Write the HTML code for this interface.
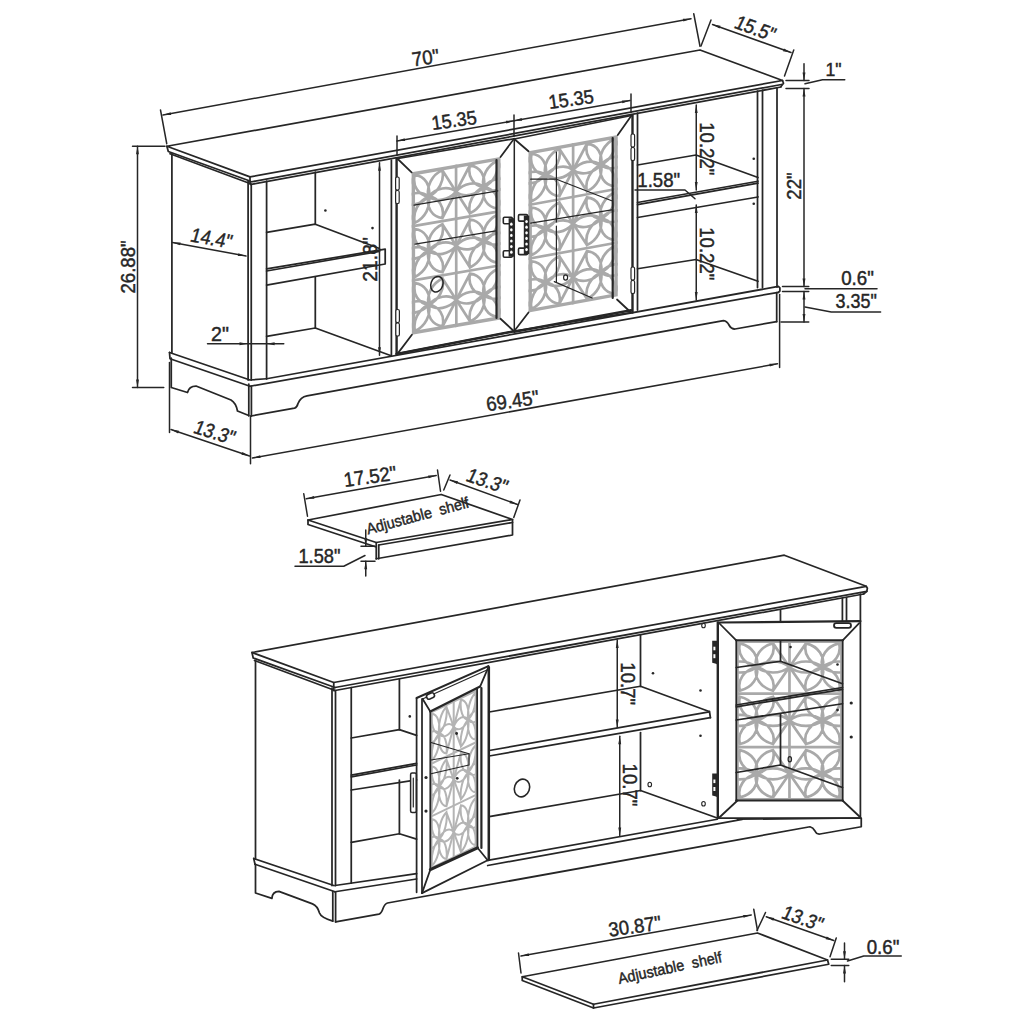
<!DOCTYPE html>
<html><head><meta charset="utf-8"><style>html,body{margin:0;padding:0;background:#fff;}svg{display:block;}text{font-family:"Liberation Sans",sans-serif;}</style></head>
<body><svg width="1024" height="1024" viewBox="0 0 1024 1024" font-family="Liberation Sans, sans-serif" stroke-linecap="round">
<defs><clipPath id="latclip1"><rect x="0" y="0" width="89.0" height="162.0"/></clipPath><clipPath id="latclip2"><rect x="0" y="0" width="89.0" height="162.0"/></clipPath><clipPath id="latclip3"><rect x="0" y="0" width="89.0" height="162.0"/></clipPath><clipPath id="latclip4"><rect x="0" y="0" width="89.0" height="162.0"/></clipPath></defs>
<rect width="1024" height="1024" fill="#ffffff"/>
<polyline points="166.90,146.25 700.00,50.00 782.50,80.50 250.00,176.90 166.90,146.25" fill="none" stroke="#262626" stroke-width="1.75" stroke-linejoin="round" />
<polyline points="166.90,146.25 168.30,151.50 250.60,181.25" fill="none" stroke="#262626" stroke-width="1.75" stroke-linejoin="round" />
<line x1="170.00" y1="153.75" x2="250.60" y2="183.75" stroke="#262626" stroke-width="1.75" />
<line x1="250.00" y1="176.90" x2="250.00" y2="183.75" stroke="#262626" stroke-width="1.75" />
<line x1="250.60" y1="182.00" x2="781.50" y2="84.50" stroke="#262626" stroke-width="1.75" />
<line x1="250.60" y1="184.50" x2="781.00" y2="87.00" stroke="#262626" stroke-width="1.75" />
<polyline points="782.50,80.50 783.50,83.20 781.00,86.50" fill="none" stroke="#262626" stroke-width="1.75" stroke-linejoin="round" />
<line x1="171.90" y1="153.75" x2="171.90" y2="352.50" stroke="#262626" stroke-width="1.75" />
<line x1="248.10" y1="181.00" x2="248.10" y2="380.00" stroke="#262626" stroke-width="1.75" />
<line x1="251.25" y1="184.00" x2="251.25" y2="380.00" stroke="#262626" stroke-width="1.75" />
<line x1="266.60" y1="181.00" x2="266.60" y2="378.75" stroke="#262626" stroke-width="1.75" />
<line x1="315.30" y1="172.00" x2="315.30" y2="224.20" stroke="#262626" stroke-width="1.75" />
<line x1="315.30" y1="277.10" x2="315.30" y2="328.00" stroke="#262626" stroke-width="1.75" />
<polyline points="266.60,232.30 315.30,224.20 379.50,248.50" fill="none" stroke="#262626" stroke-width="1.75" stroke-linejoin="round" />
<polyline points="266.60,268.90 385.20,249.20 385.20,264.00 266.60,285.10" fill="none" stroke="#262626" stroke-width="1.75" stroke-linejoin="round" />
<line x1="266.60" y1="271.00" x2="379.50" y2="251.30" stroke="#262626" stroke-width="1.75" />
<polyline points="266.60,336.40 315.30,328.00 391.20,355.80" fill="none" stroke="#262626" stroke-width="1.75" stroke-linejoin="round" />
<circle cx="325.4" cy="210.5" r="1.3" fill="#262626"/>
<circle cx="372.5" cy="228.1" r="1.3" fill="#262626"/>
<line x1="391.40" y1="160.00" x2="391.40" y2="355.80" stroke="#262626" stroke-width="1.75" />
<polyline points="266.60,378.75 778.40,286.40 779.90,287.80 779.90,291.00 778.40,292.30" fill="none" stroke="#262626" stroke-width="1.75" stroke-linejoin="round" />
<line x1="250.00" y1="386.25" x2="778.40" y2="292.30" stroke="#262626" stroke-width="1.75" />
<polyline points="169.50,352.50 250.00,380.00 266.60,378.75" fill="none" stroke="#262626" stroke-width="1.75" stroke-linejoin="round" />
<polyline points="169.50,352.50 170.00,358.75 250.00,386.25" fill="none" stroke="#262626" stroke-width="1.75" stroke-linejoin="round" />
<path d="M171.25,358 L171.25,387.5 L187.5,392.5 Q189,386 196,386 L231,400 Q236,403 237.5,411 L248.75,415.5" fill="none" stroke="#262626" stroke-width="1.75" stroke-linejoin="round" />
<line x1="248.80" y1="384.00" x2="248.80" y2="415.80" stroke="#262626" stroke-width="1.75" />
<line x1="251.40" y1="386.00" x2="251.40" y2="416.00" stroke="#262626" stroke-width="1.75" />
<path d="M251,416 L294.5,408.1 Q297,407.5 298,403.5 Q300.5,397 307,395.8 L723.5,320.6 Q727,321 729,325 Q731,329 735,329 L776.7,321.6" fill="none" stroke="#262626" stroke-width="1.75" stroke-linejoin="round" />
<line x1="776.70" y1="292.50" x2="776.70" y2="321.60" stroke="#262626" stroke-width="1.75" />
<g transform="matrix(0.99888,-0.17191,0.00185,1.00247,411.60,172.30)"><g clip-path="url(#latclip1)"><line x1="44.50" y1="0.00" x2="44.50" y2="162.00" stroke="#a9a9a9" stroke-width="2.7" vector-effect="non-scaling-stroke"/><line x1="0.00" y1="54.00" x2="89.00" y2="54.00" stroke="#a9a9a9" stroke-width="2.7" vector-effect="non-scaling-stroke"/><line x1="0.00" y1="108.00" x2="89.00" y2="108.00" stroke="#a9a9a9" stroke-width="2.7" vector-effect="non-scaling-stroke"/><circle cx="16.91" cy="27.00" r="3.0" fill="#a9a9a9"/><circle cx="16.91" cy="81.00" r="3.0" fill="#a9a9a9"/><circle cx="16.91" cy="135.00" r="3.0" fill="#a9a9a9"/><circle cx="72.09" cy="27.00" r="3.0" fill="#a9a9a9"/><circle cx="72.09" cy="81.00" r="3.0" fill="#a9a9a9"/><circle cx="72.09" cy="135.00" r="3.0" fill="#a9a9a9"/><path d="M16.91,27.00 A19.86,19.86 0 0 1 44.50,27.00 A19.86,19.86 0 0 1 16.91,27.00 M16.91,27.00 A19.86,19.86 0 0 1 30.71,3.11 A19.86,19.86 0 0 1 16.91,27.00 M16.91,27.00 A19.86,19.86 0 0 1 3.12,3.11 A19.86,19.86 0 0 1 16.91,27.00 M16.91,27.00 A19.86,19.86 0 0 1 -10.68,27.00 A19.86,19.86 0 0 1 16.91,27.00 M16.91,27.00 A19.86,19.86 0 0 1 3.11,50.89 A19.86,19.86 0 0 1 16.91,27.00 M16.91,27.00 A19.86,19.86 0 0 1 30.71,50.89 A19.86,19.86 0 0 1 16.91,27.00 M30.71,3.11 L44.50,27.00 M3.11,3.11 L-10.68,27.00 M30.71,50.89 L44.50,27.00 M3.11,50.89 L-10.68,27.00 M16.91,81.00 A19.86,19.86 0 0 1 44.50,81.00 A19.86,19.86 0 0 1 16.91,81.00 M16.91,81.00 A19.86,19.86 0 0 1 30.71,57.11 A19.86,19.86 0 0 1 16.91,81.00 M16.91,81.00 A19.86,19.86 0 0 1 3.12,57.11 A19.86,19.86 0 0 1 16.91,81.00 M16.91,81.00 A19.86,19.86 0 0 1 -10.68,81.00 A19.86,19.86 0 0 1 16.91,81.00 M16.91,81.00 A19.86,19.86 0 0 1 3.11,104.89 A19.86,19.86 0 0 1 16.91,81.00 M16.91,81.00 A19.86,19.86 0 0 1 30.71,104.89 A19.86,19.86 0 0 1 16.91,81.00 M30.71,57.11 L44.50,81.00 M3.11,57.11 L-10.68,81.00 M30.71,104.89 L44.50,81.00 M3.11,104.89 L-10.68,81.00 M16.91,135.00 A19.86,19.86 0 0 1 44.50,135.00 A19.86,19.86 0 0 1 16.91,135.00 M16.91,135.00 A19.86,19.86 0 0 1 30.71,111.11 A19.86,19.86 0 0 1 16.91,135.00 M16.91,135.00 A19.86,19.86 0 0 1 3.12,111.11 A19.86,19.86 0 0 1 16.91,135.00 M16.91,135.00 A19.86,19.86 0 0 1 -10.68,135.00 A19.86,19.86 0 0 1 16.91,135.00 M16.91,135.00 A19.86,19.86 0 0 1 3.11,158.89 A19.86,19.86 0 0 1 16.91,135.00 M16.91,135.00 A19.86,19.86 0 0 1 30.71,158.89 A19.86,19.86 0 0 1 16.91,135.00 M30.71,111.11 L44.50,135.00 M3.11,111.11 L-10.68,135.00 M30.71,158.89 L44.50,135.00 M3.11,158.89 L-10.68,135.00 M72.09,27.00 A19.86,19.86 0 0 1 99.68,27.00 A19.86,19.86 0 0 1 72.09,27.00 M72.09,27.00 A19.86,19.86 0 0 1 85.89,3.11 A19.86,19.86 0 0 1 72.09,27.00 M72.09,27.00 A19.86,19.86 0 0 1 58.30,3.11 A19.86,19.86 0 0 1 72.09,27.00 M72.09,27.00 A19.86,19.86 0 0 1 44.50,27.00 A19.86,19.86 0 0 1 72.09,27.00 M72.09,27.00 A19.86,19.86 0 0 1 58.29,50.89 A19.86,19.86 0 0 1 72.09,27.00 M72.09,27.00 A19.86,19.86 0 0 1 85.89,50.89 A19.86,19.86 0 0 1 72.09,27.00 M85.89,3.11 L99.68,27.00 M58.30,3.11 L44.50,27.00 M85.89,50.89 L99.68,27.00 M58.30,50.89 L44.50,27.00 M72.09,81.00 A19.86,19.86 0 0 1 99.68,81.00 A19.86,19.86 0 0 1 72.09,81.00 M72.09,81.00 A19.86,19.86 0 0 1 85.89,57.11 A19.86,19.86 0 0 1 72.09,81.00 M72.09,81.00 A19.86,19.86 0 0 1 58.30,57.11 A19.86,19.86 0 0 1 72.09,81.00 M72.09,81.00 A19.86,19.86 0 0 1 44.50,81.00 A19.86,19.86 0 0 1 72.09,81.00 M72.09,81.00 A19.86,19.86 0 0 1 58.29,104.89 A19.86,19.86 0 0 1 72.09,81.00 M72.09,81.00 A19.86,19.86 0 0 1 85.89,104.89 A19.86,19.86 0 0 1 72.09,81.00 M85.89,57.11 L99.68,81.00 M58.30,57.11 L44.50,81.00 M85.89,104.89 L99.68,81.00 M58.30,104.89 L44.50,81.00 M72.09,135.00 A19.86,19.86 0 0 1 99.68,135.00 A19.86,19.86 0 0 1 72.09,135.00 M72.09,135.00 A19.86,19.86 0 0 1 85.89,111.11 A19.86,19.86 0 0 1 72.09,135.00 M72.09,135.00 A19.86,19.86 0 0 1 58.30,111.11 A19.86,19.86 0 0 1 72.09,135.00 M72.09,135.00 A19.86,19.86 0 0 1 44.50,135.00 A19.86,19.86 0 0 1 72.09,135.00 M72.09,135.00 A19.86,19.86 0 0 1 58.29,158.89 A19.86,19.86 0 0 1 72.09,135.00 M72.09,135.00 A19.86,19.86 0 0 1 85.89,158.89 A19.86,19.86 0 0 1 72.09,135.00 M85.89,111.11 L99.68,135.00 M58.30,111.11 L44.50,135.00 M85.89,158.89 L99.68,135.00 M58.30,158.89 L44.50,135.00" fill="none" stroke="#a9a9a9" stroke-width="2.7" vector-effect="non-scaling-stroke"/><rect x="0" y="0" width="89.0" height="162.0" fill="none" stroke="#a9a9a9" stroke-width="6.8" vector-effect="non-scaling-stroke"/></g></g>
<g transform="matrix(1.00281,-0.18258,0.00000,0.99537,528.50,151.25)"><g clip-path="url(#latclip2)"><line x1="44.50" y1="0.00" x2="44.50" y2="162.00" stroke="#a9a9a9" stroke-width="2.7" vector-effect="non-scaling-stroke"/><line x1="0.00" y1="54.00" x2="89.00" y2="54.00" stroke="#a9a9a9" stroke-width="2.7" vector-effect="non-scaling-stroke"/><line x1="0.00" y1="108.00" x2="89.00" y2="108.00" stroke="#a9a9a9" stroke-width="2.7" vector-effect="non-scaling-stroke"/><circle cx="16.91" cy="27.00" r="3.0" fill="#a9a9a9"/><circle cx="16.91" cy="81.00" r="3.0" fill="#a9a9a9"/><circle cx="16.91" cy="135.00" r="3.0" fill="#a9a9a9"/><circle cx="72.09" cy="27.00" r="3.0" fill="#a9a9a9"/><circle cx="72.09" cy="81.00" r="3.0" fill="#a9a9a9"/><circle cx="72.09" cy="135.00" r="3.0" fill="#a9a9a9"/><path d="M16.91,27.00 A19.86,19.86 0 0 1 44.50,27.00 A19.86,19.86 0 0 1 16.91,27.00 M16.91,27.00 A19.86,19.86 0 0 1 30.71,3.11 A19.86,19.86 0 0 1 16.91,27.00 M16.91,27.00 A19.86,19.86 0 0 1 3.12,3.11 A19.86,19.86 0 0 1 16.91,27.00 M16.91,27.00 A19.86,19.86 0 0 1 -10.68,27.00 A19.86,19.86 0 0 1 16.91,27.00 M16.91,27.00 A19.86,19.86 0 0 1 3.11,50.89 A19.86,19.86 0 0 1 16.91,27.00 M16.91,27.00 A19.86,19.86 0 0 1 30.71,50.89 A19.86,19.86 0 0 1 16.91,27.00 M30.71,3.11 L44.50,27.00 M3.11,3.11 L-10.68,27.00 M30.71,50.89 L44.50,27.00 M3.11,50.89 L-10.68,27.00 M16.91,81.00 A19.86,19.86 0 0 1 44.50,81.00 A19.86,19.86 0 0 1 16.91,81.00 M16.91,81.00 A19.86,19.86 0 0 1 30.71,57.11 A19.86,19.86 0 0 1 16.91,81.00 M16.91,81.00 A19.86,19.86 0 0 1 3.12,57.11 A19.86,19.86 0 0 1 16.91,81.00 M16.91,81.00 A19.86,19.86 0 0 1 -10.68,81.00 A19.86,19.86 0 0 1 16.91,81.00 M16.91,81.00 A19.86,19.86 0 0 1 3.11,104.89 A19.86,19.86 0 0 1 16.91,81.00 M16.91,81.00 A19.86,19.86 0 0 1 30.71,104.89 A19.86,19.86 0 0 1 16.91,81.00 M30.71,57.11 L44.50,81.00 M3.11,57.11 L-10.68,81.00 M30.71,104.89 L44.50,81.00 M3.11,104.89 L-10.68,81.00 M16.91,135.00 A19.86,19.86 0 0 1 44.50,135.00 A19.86,19.86 0 0 1 16.91,135.00 M16.91,135.00 A19.86,19.86 0 0 1 30.71,111.11 A19.86,19.86 0 0 1 16.91,135.00 M16.91,135.00 A19.86,19.86 0 0 1 3.12,111.11 A19.86,19.86 0 0 1 16.91,135.00 M16.91,135.00 A19.86,19.86 0 0 1 -10.68,135.00 A19.86,19.86 0 0 1 16.91,135.00 M16.91,135.00 A19.86,19.86 0 0 1 3.11,158.89 A19.86,19.86 0 0 1 16.91,135.00 M16.91,135.00 A19.86,19.86 0 0 1 30.71,158.89 A19.86,19.86 0 0 1 16.91,135.00 M30.71,111.11 L44.50,135.00 M3.11,111.11 L-10.68,135.00 M30.71,158.89 L44.50,135.00 M3.11,158.89 L-10.68,135.00 M72.09,27.00 A19.86,19.86 0 0 1 99.68,27.00 A19.86,19.86 0 0 1 72.09,27.00 M72.09,27.00 A19.86,19.86 0 0 1 85.89,3.11 A19.86,19.86 0 0 1 72.09,27.00 M72.09,27.00 A19.86,19.86 0 0 1 58.30,3.11 A19.86,19.86 0 0 1 72.09,27.00 M72.09,27.00 A19.86,19.86 0 0 1 44.50,27.00 A19.86,19.86 0 0 1 72.09,27.00 M72.09,27.00 A19.86,19.86 0 0 1 58.29,50.89 A19.86,19.86 0 0 1 72.09,27.00 M72.09,27.00 A19.86,19.86 0 0 1 85.89,50.89 A19.86,19.86 0 0 1 72.09,27.00 M85.89,3.11 L99.68,27.00 M58.30,3.11 L44.50,27.00 M85.89,50.89 L99.68,27.00 M58.30,50.89 L44.50,27.00 M72.09,81.00 A19.86,19.86 0 0 1 99.68,81.00 A19.86,19.86 0 0 1 72.09,81.00 M72.09,81.00 A19.86,19.86 0 0 1 85.89,57.11 A19.86,19.86 0 0 1 72.09,81.00 M72.09,81.00 A19.86,19.86 0 0 1 58.30,57.11 A19.86,19.86 0 0 1 72.09,81.00 M72.09,81.00 A19.86,19.86 0 0 1 44.50,81.00 A19.86,19.86 0 0 1 72.09,81.00 M72.09,81.00 A19.86,19.86 0 0 1 58.29,104.89 A19.86,19.86 0 0 1 72.09,81.00 M72.09,81.00 A19.86,19.86 0 0 1 85.89,104.89 A19.86,19.86 0 0 1 72.09,81.00 M85.89,57.11 L99.68,81.00 M58.30,57.11 L44.50,81.00 M85.89,104.89 L99.68,81.00 M58.30,104.89 L44.50,81.00 M72.09,135.00 A19.86,19.86 0 0 1 99.68,135.00 A19.86,19.86 0 0 1 72.09,135.00 M72.09,135.00 A19.86,19.86 0 0 1 85.89,111.11 A19.86,19.86 0 0 1 72.09,135.00 M72.09,135.00 A19.86,19.86 0 0 1 58.30,111.11 A19.86,19.86 0 0 1 72.09,135.00 M72.09,135.00 A19.86,19.86 0 0 1 44.50,135.00 A19.86,19.86 0 0 1 72.09,135.00 M72.09,135.00 A19.86,19.86 0 0 1 58.29,158.89 A19.86,19.86 0 0 1 72.09,135.00 M72.09,135.00 A19.86,19.86 0 0 1 85.89,158.89 A19.86,19.86 0 0 1 72.09,135.00 M85.89,111.11 L99.68,135.00 M58.30,111.11 L44.50,135.00 M85.89,158.89 L99.68,135.00 M58.30,158.89 L44.50,135.00" fill="none" stroke="#a9a9a9" stroke-width="2.7" vector-effect="non-scaling-stroke"/><rect x="0" y="0" width="89.0" height="162.0" fill="none" stroke="#a9a9a9" stroke-width="6.8" vector-effect="non-scaling-stroke"/></g></g>
<line x1="396.60" y1="158.75" x2="396.60" y2="353.90" stroke="#262626" stroke-width="2.4" />
<line x1="396.60" y1="158.75" x2="514.00" y2="138.75" stroke="#262626" stroke-width="1.75" />
<line x1="396.60" y1="353.90" x2="514.00" y2="331.25" stroke="#262626" stroke-width="1.75" />
<line x1="514.30" y1="138.75" x2="514.30" y2="331.25" stroke="#262626" stroke-width="1.5" />
<line x1="397.50" y1="158.75" x2="411.60" y2="172.30" stroke="#262626" stroke-width="1.75" />
<line x1="514.00" y1="138.75" x2="500.50" y2="157.00" stroke="#262626" stroke-width="1.75" />
<line x1="397.80" y1="353.40" x2="411.90" y2="334.70" stroke="#262626" stroke-width="1.75" />
<line x1="514.00" y1="331.25" x2="500.50" y2="318.75" stroke="#262626" stroke-width="1.75" />
<rect x="395.6" y="177" width="3.6" height="13" rx="1.6" fill="#fff" stroke="#262626" stroke-width="1.2"/>
<rect x="395.6" y="190.5" width="3.6" height="13" rx="1.6" fill="#fff" stroke="#262626" stroke-width="1.2"/>
<rect x="395.8" y="309.5" width="3.6" height="13" rx="1.6" fill="#fff" stroke="#262626" stroke-width="1.2"/>
<rect x="395.8" y="323" width="3.6" height="13" rx="1.6" fill="#fff" stroke="#262626" stroke-width="1.2"/>
<line x1="514.30" y1="139.00" x2="631.50" y2="115.50" stroke="#262626" stroke-width="1.75" />
<line x1="514.30" y1="331.00" x2="631.00" y2="312.50" stroke="#262626" stroke-width="1.75" />
<line x1="632.50" y1="115.50" x2="632.50" y2="312.50" stroke="#262626" stroke-width="2.4" />
<line x1="514.30" y1="139.00" x2="528.50" y2="151.25" stroke="#262626" stroke-width="1.75" />
<line x1="631.50" y1="115.50" x2="617.75" y2="135.00" stroke="#262626" stroke-width="1.75" />
<line x1="514.30" y1="331.00" x2="528.50" y2="312.50" stroke="#262626" stroke-width="1.75" />
<line x1="631.00" y1="312.50" x2="617.00" y2="299.50" stroke="#262626" stroke-width="1.75" />
<rect x="631" y="134" width="3.6" height="13" rx="1.6" fill="#fff" stroke="#262626" stroke-width="1.2"/>
<rect x="631" y="147.5" width="3.6" height="13" rx="1.6" fill="#fff" stroke="#262626" stroke-width="1.2"/>
<rect x="631" y="267" width="3.6" height="13" rx="1.6" fill="#fff" stroke="#262626" stroke-width="1.2"/>
<rect x="631" y="280.5" width="3.6" height="13" rx="1.6" fill="#fff" stroke="#262626" stroke-width="1.2"/>
<rect x="503.3" y="217.2" width="9.0" height="6.5" rx="1.2" fill="#fff" stroke="#262626" stroke-width="1.6"/>
<rect x="503.3" y="250.7" width="9.0" height="6.5" rx="1.2" fill="#fff" stroke="#262626" stroke-width="1.6"/>
<rect x="508.60" y="218.20" width="5.5" height="38.5" fill="#262626"/>
<ellipse cx="511.35" cy="224.20" rx="1.3" ry="1.6" fill="#fff"/>
<ellipse cx="511.35" cy="229.80" rx="1.3" ry="1.6" fill="#fff"/>
<ellipse cx="511.35" cy="235.40" rx="1.3" ry="1.6" fill="#fff"/>
<ellipse cx="511.35" cy="241.00" rx="1.3" ry="1.6" fill="#fff"/>
<ellipse cx="511.35" cy="246.60" rx="1.3" ry="1.6" fill="#fff"/>
<ellipse cx="511.35" cy="252.20" rx="1.3" ry="1.6" fill="#fff"/>
<rect x="518.5" y="214.6" width="9.0" height="6.5" rx="1.2" fill="#fff" stroke="#262626" stroke-width="1.6"/>
<rect x="518.5" y="248.1" width="9.0" height="6.5" rx="1.2" fill="#fff" stroke="#262626" stroke-width="1.6"/>
<rect x="523.80" y="215.60" width="5.5" height="38.5" fill="#262626"/>
<ellipse cx="526.55" cy="221.60" rx="1.3" ry="1.6" fill="#fff"/>
<ellipse cx="526.55" cy="227.20" rx="1.3" ry="1.6" fill="#fff"/>
<ellipse cx="526.55" cy="232.80" rx="1.3" ry="1.6" fill="#fff"/>
<ellipse cx="526.55" cy="238.40" rx="1.3" ry="1.6" fill="#fff"/>
<ellipse cx="526.55" cy="244.00" rx="1.3" ry="1.6" fill="#fff"/>
<ellipse cx="526.55" cy="249.60" rx="1.3" ry="1.6" fill="#fff"/>
<line x1="414.00" y1="205.20" x2="497.80" y2="190.90" stroke="#262626" stroke-width="1.2" />
<line x1="415.00" y1="244.20" x2="495.90" y2="230.90" stroke="#262626" stroke-width="1.2" />
<ellipse cx="436.9" cy="284.2" rx="6" ry="8" transform="rotate(20 436.9 284.2)" fill="none" stroke="#262626" stroke-width="1.5"/>
<line x1="496.50" y1="160.00" x2="496.50" y2="318.00" stroke="#262626" stroke-width="2.2" />
<line x1="612.70" y1="138.00" x2="612.70" y2="298.00" stroke="#262626" stroke-width="2.2" />
<polyline points="530.70,179.20 556.40,179.20 611.70,200.70" fill="none" stroke="#262626" stroke-width="1.2" stroke-linejoin="round" />
<line x1="530.70" y1="223.20" x2="611.70" y2="209.90" stroke="#262626" stroke-width="1.2" />
<line x1="556.40" y1="152.00" x2="556.40" y2="222.00" stroke="#262626" stroke-width="1.2" />
<line x1="556.40" y1="226.00" x2="556.40" y2="281.60" stroke="#262626" stroke-width="1.2" />
<line x1="554.30" y1="281.60" x2="592.20" y2="298.00" stroke="#262626" stroke-width="1.2" />
<ellipse cx="565.6" cy="277.5" rx="2" ry="2.6" fill="none" stroke="#262626" stroke-width="1.2"/>
<line x1="514.30" y1="331.80" x2="631.10" y2="310.30" stroke="#262626" stroke-width="2.4" />
<line x1="396.60" y1="353.90" x2="514.00" y2="331.25" stroke="#262626" stroke-width="2.4" />
<line x1="637.50" y1="113.00" x2="637.50" y2="310.00" stroke="#262626" stroke-width="1.75" />
<line x1="757.50" y1="91.00" x2="757.50" y2="287.50" stroke="#262626" stroke-width="1.75" />
<line x1="762.50" y1="90.00" x2="762.50" y2="287.50" stroke="#262626" stroke-width="1.75" />
<line x1="777.00" y1="88.00" x2="777.00" y2="287.00" stroke="#262626" stroke-width="1.75" />
<polyline points="637.50,165.00 696.00,155.00 758.00,177.50" fill="none" stroke="#262626" stroke-width="1.75" stroke-linejoin="round" />
<line x1="637.50" y1="202.50" x2="758.00" y2="181.25" stroke="#262626" stroke-width="1.75" />
<line x1="637.50" y1="204.60" x2="758.00" y2="183.20" stroke="#262626" stroke-width="1.75" />
<line x1="637.50" y1="217.50" x2="758.00" y2="197.00" stroke="#262626" stroke-width="1.75" />
<polyline points="637.50,268.75 696.00,259.50 758.00,281.25" fill="none" stroke="#262626" stroke-width="1.75" stroke-linejoin="round" />
<circle cx="753.75" cy="158.75" r="1.3" fill="#262626"/>
<circle cx="753.75" cy="203.75" r="1.3" fill="#262626"/>
<line x1="160.50" y1="110.00" x2="166.75" y2="143.75" stroke="#262626" stroke-width="1.5" />
<line x1="693.75" y1="13.75" x2="700.00" y2="46.25" stroke="#262626" stroke-width="1.5" />
<line x1="163.00" y1="115.00" x2="691.00" y2="18.75" stroke="#262626" stroke-width="1.5" />
<polygon points="163.00,115.00 170.61,112.14 171.13,114.99" fill="#262626" stroke="none" stroke-width="0"/>
<polygon points="691.00,18.75 683.39,21.61 682.87,18.76" fill="#262626" stroke="none" stroke-width="0"/>
<g transform="translate(425.50,57.50) rotate(-8) skewX(0) scale(0.93,1)"><text x="0" y="7.16" font-size="20" text-anchor="middle" fill="#262626" stroke="#262626" stroke-width="0.45">70"</text></g>
<line x1="711.00" y1="20.00" x2="701.00" y2="46.00" stroke="#262626" stroke-width="1.5" />
<line x1="793.75" y1="50.00" x2="784.50" y2="76.00" stroke="#262626" stroke-width="1.5" />
<line x1="712.50" y1="24.50" x2="791.00" y2="52.50" stroke="#262626" stroke-width="1.5" />
<polygon points="712.50,24.50 720.52,25.82 719.55,28.55" fill="#262626" stroke="none" stroke-width="0"/>
<polygon points="791.00,52.50 782.98,51.18 783.95,48.45" fill="#262626" stroke="none" stroke-width="0"/>
<g transform="translate(755.50,28.00) rotate(20) skewX(-6) scale(0.9,1)"><text x="0" y="7.16" font-size="20" text-anchor="middle" fill="#262626" stroke="#262626" stroke-width="0.45">15.5"</text></g>
<line x1="786.00" y1="80.40" x2="809.00" y2="80.40" stroke="#262626" stroke-width="1.5" />
<line x1="786.00" y1="88.40" x2="809.00" y2="88.40" stroke="#262626" stroke-width="1.5" />
<line x1="804.00" y1="63.75" x2="804.00" y2="80.40" stroke="#262626" stroke-width="1.5" />
<polygon points="804.00,80.40 802.55,72.40 805.45,72.40" fill="#262626" stroke="none" stroke-width="0"/>
<polyline points="805.00,83.75 822.50,79.75 844.75,79.75" fill="none" stroke="#262626" stroke-width="1.5" stroke-linejoin="round" />
<g transform="translate(833.50,69.50) rotate(0) skewX(0) scale(0.93,1)"><text x="0" y="6.80" font-size="19" text-anchor="middle" fill="#262626" stroke="#262626" stroke-width="0.45">1"</text></g>
<line x1="804.00" y1="88.40" x2="804.00" y2="286.50" stroke="#262626" stroke-width="1.5" />
<polygon points="804.00,88.40 805.45,96.40 802.55,96.40" fill="#262626" stroke="none" stroke-width="0"/>
<polygon points="804.00,286.50 802.55,278.50 805.45,278.50" fill="#262626" stroke="none" stroke-width="0"/>
<g transform="translate(794.00,186.00) rotate(-90) skewX(0) scale(0.93,1)"><text x="0" y="7.16" font-size="20" text-anchor="middle" fill="#262626" stroke="#262626" stroke-width="0.45">22"</text></g>
<line x1="782.50" y1="286.50" x2="808.75" y2="286.50" stroke="#262626" stroke-width="1.5" />
<line x1="782.50" y1="291.50" x2="808.75" y2="291.50" stroke="#262626" stroke-width="1.5" />
<line x1="781.00" y1="321.90" x2="808.75" y2="321.90" stroke="#262626" stroke-width="1.5" />
<line x1="804.00" y1="291.50" x2="804.00" y2="321.90" stroke="#262626" stroke-width="1.5" />
<polygon points="804.00,291.50 805.45,299.50 802.55,299.50" fill="#262626" stroke="none" stroke-width="0"/>
<polygon points="804.00,321.90 802.55,313.90 805.45,313.90" fill="#262626" stroke="none" stroke-width="0"/>
<line x1="805.00" y1="288.75" x2="877.00" y2="288.75" stroke="#262626" stroke-width="1.5" />
<polyline points="805.00,306.90 831.25,311.90 880.60,311.90" fill="none" stroke="#262626" stroke-width="1.5" stroke-linejoin="round" />
<g transform="translate(857.50,278.50) rotate(0) skewX(0) scale(0.96,1)"><text x="0" y="6.98" font-size="19.5" text-anchor="middle" fill="#262626" stroke="#262626" stroke-width="0.45">0.6"</text></g>
<g transform="translate(856.25,301.50) rotate(0) skewX(0) scale(0.93,1)"><text x="0" y="6.91" font-size="19.3" text-anchor="middle" fill="#262626" stroke="#262626" stroke-width="0.45">3.35"</text></g>
<line x1="132.50" y1="146.25" x2="165.00" y2="146.25" stroke="#262626" stroke-width="1.5" />
<line x1="132.50" y1="387.50" x2="163.75" y2="387.50" stroke="#262626" stroke-width="1.5" />
<line x1="137.50" y1="146.25" x2="137.50" y2="387.50" stroke="#262626" stroke-width="1.5" />
<polygon points="137.50,146.25 138.95,154.25 136.05,154.25" fill="#262626" stroke="none" stroke-width="0"/>
<polygon points="137.50,387.50 136.05,379.50 138.95,379.50" fill="#262626" stroke="none" stroke-width="0"/>
<g transform="translate(127.50,267.00) rotate(-90) skewX(0) scale(0.93,1)"><text x="0" y="7.16" font-size="20" text-anchor="middle" fill="#262626" stroke="#262626" stroke-width="0.45">26.88"</text></g>
<line x1="172.50" y1="242.50" x2="246.00" y2="256.00" stroke="#262626" stroke-width="1.5" />
<polygon points="172.50,242.50 180.63,242.52 180.11,245.37" fill="#262626" stroke="none" stroke-width="0"/>
<polygon points="246.00,256.00 237.87,255.98 238.39,253.13" fill="#262626" stroke="none" stroke-width="0"/>
<g transform="translate(211.75,238.00) rotate(10) skewX(-6) scale(0.9,1)"><text x="0" y="7.16" font-size="20" text-anchor="middle" fill="#262626" stroke="#262626" stroke-width="0.45">14.4"</text></g>
<line x1="207.50" y1="343.75" x2="283.75" y2="343.75" stroke="#262626" stroke-width="1.5" />
<polygon points="247.50,343.75 239.50,345.20 239.50,342.30" fill="#262626" stroke="none" stroke-width="0"/>
<polygon points="266.60,343.75 274.60,342.30 274.60,345.20" fill="#262626" stroke="none" stroke-width="0"/>
<g transform="translate(220.00,334.00) rotate(0) skewX(0) scale(0.98,1)"><text x="0" y="7.16" font-size="20" text-anchor="middle" fill="#262626" stroke="#262626" stroke-width="0.45">2"</text></g>
<line x1="379.50" y1="162.80" x2="379.50" y2="355.30" stroke="#262626" stroke-width="1.5" />
<polygon points="379.50,162.80 380.95,170.80 378.05,170.80" fill="#262626" stroke="none" stroke-width="0"/>
<polygon points="379.50,355.30 378.05,347.30 380.95,347.30" fill="#262626" stroke="none" stroke-width="0"/>
<g transform="translate(369.70,259.50) rotate(-90) skewX(0) scale(0.97,1)"><text x="0" y="7.16" font-size="20" text-anchor="middle" fill="#262626" stroke="#262626" stroke-width="0.45">21.8"</text></g>
<line x1="397.00" y1="136.00" x2="397.00" y2="155.00" stroke="#262626" stroke-width="1.5" />
<line x1="514.00" y1="115.00" x2="514.00" y2="136.00" stroke="#262626" stroke-width="1.5" />
<line x1="631.00" y1="94.00" x2="631.00" y2="112.50" stroke="#262626" stroke-width="1.5" />
<line x1="397.00" y1="141.00" x2="514.00" y2="120.75" stroke="#262626" stroke-width="1.5" />
<polygon points="397.00,141.00 404.64,138.21 405.13,141.06" fill="#262626" stroke="none" stroke-width="0"/>
<polygon points="514.00,120.75 506.36,123.54 505.87,120.69" fill="#262626" stroke="none" stroke-width="0"/>
<line x1="514.00" y1="120.75" x2="630.00" y2="100.50" stroke="#262626" stroke-width="1.5" />
<polygon points="514.00,120.75 521.63,117.95 522.13,120.80" fill="#262626" stroke="none" stroke-width="0"/>
<polygon points="630.00,100.50 622.37,103.30 621.87,100.45" fill="#262626" stroke="none" stroke-width="0"/>
<g transform="translate(454.00,120.00) rotate(-8) skewX(0) scale(0.93,1)"><text x="0" y="6.98" font-size="19.5" text-anchor="middle" fill="#262626" stroke="#262626" stroke-width="0.45">15.35</text></g>
<g transform="translate(571.00,99.00) rotate(-8) skewX(0) scale(0.93,1)"><text x="0" y="6.98" font-size="19.5" text-anchor="middle" fill="#262626" stroke="#262626" stroke-width="0.45">15.35</text></g>
<line x1="696.25" y1="105.00" x2="696.25" y2="190.00" stroke="#262626" stroke-width="1.5" />
<polygon points="696.25,105.00 697.70,113.00 694.80,113.00" fill="#262626" stroke="none" stroke-width="0"/>
<polygon points="696.25,190.00 694.80,182.00 697.70,182.00" fill="#262626" stroke="none" stroke-width="0"/>
<line x1="696.25" y1="205.00" x2="696.25" y2="300.00" stroke="#262626" stroke-width="1.5" />
<polygon points="696.25,205.00 697.70,213.00 694.80,213.00" fill="#262626" stroke="none" stroke-width="0"/>
<polygon points="696.25,300.00 694.80,292.00 697.70,292.00" fill="#262626" stroke="none" stroke-width="0"/>
<g transform="translate(706.90,148.75) rotate(90) skewX(0) scale(0.93,1)"><text x="0" y="7.16" font-size="20" text-anchor="middle" fill="#262626" stroke="#262626" stroke-width="0.45">10.22"</text></g>
<g transform="translate(706.90,253.75) rotate(90) skewX(0) scale(0.93,1)"><text x="0" y="7.16" font-size="20" text-anchor="middle" fill="#262626" stroke="#262626" stroke-width="0.45">10.22"</text></g>
<polyline points="635.00,190.00 685.00,190.00 695.00,198.75" fill="none" stroke="#262626" stroke-width="1.5" stroke-linejoin="round" />
<g transform="translate(658.75,180.00) rotate(0) skewX(0) scale(0.93,1)"><text x="0" y="7.16" font-size="20" text-anchor="middle" fill="#262626" stroke="#262626" stroke-width="0.45">1.58"</text></g>
<line x1="250.50" y1="416.00" x2="250.50" y2="463.75" stroke="#262626" stroke-width="1.5" />
<line x1="779.60" y1="294.60" x2="779.60" y2="367.50" stroke="#262626" stroke-width="1.5" />
<line x1="252.50" y1="458.00" x2="777.50" y2="363.75" stroke="#262626" stroke-width="1.5" />
<polygon points="252.50,458.00 260.12,455.16 260.63,458.01" fill="#262626" stroke="none" stroke-width="0"/>
<polygon points="777.50,363.75 769.88,366.59 769.37,363.74" fill="#262626" stroke="none" stroke-width="0"/>
<g transform="translate(512.50,400.50) rotate(-8) skewX(0) scale(0.93,1)"><text x="0" y="7.16" font-size="20" text-anchor="middle" fill="#262626" stroke="#262626" stroke-width="0.45">69.45"</text></g>
<line x1="169.50" y1="362.50" x2="169.50" y2="432.50" stroke="#262626" stroke-width="1.5" />
<line x1="171.00" y1="429.50" x2="249.50" y2="456.00" stroke="#262626" stroke-width="1.5" />
<polygon points="171.00,429.50 179.04,430.68 178.12,433.43" fill="#262626" stroke="none" stroke-width="0"/>
<polygon points="249.50,456.00 241.46,454.82 242.38,452.07" fill="#262626" stroke="none" stroke-width="0"/>
<g transform="translate(214.90,432.00) rotate(17) skewX(-6) scale(0.9,1)"><text x="0" y="7.16" font-size="20" text-anchor="middle" fill="#262626" stroke="#262626" stroke-width="0.45">13.3"</text></g>
<polyline points="308.00,520.00 441.25,494.50 512.50,519.50 376.25,542.50 308.00,520.00" fill="none" stroke="#262626" stroke-width="1.75" stroke-linejoin="round" />
<polyline points="308.00,520.00 308.00,524.50 376.25,547.00" fill="none" stroke="#262626" stroke-width="1.75" stroke-linejoin="round" />
<line x1="376.25" y1="542.50" x2="376.25" y2="558.75" stroke="#262626" stroke-width="1.75" />
<line x1="378.75" y1="545.00" x2="378.75" y2="558.75" stroke="#262626" stroke-width="1.75" />
<line x1="378.75" y1="545.00" x2="512.50" y2="522.50" stroke="#262626" stroke-width="1.75" />
<polyline points="376.25,558.75 512.50,535.00 512.50,519.50" fill="none" stroke="#262626" stroke-width="1.75" stroke-linejoin="round" />
<line x1="303.75" y1="493.75" x2="307.50" y2="516.25" stroke="#262626" stroke-width="1.5" />
<line x1="437.50" y1="470.00" x2="440.50" y2="491.25" stroke="#262626" stroke-width="1.5" />
<line x1="306.25" y1="498.75" x2="436.25" y2="475.50" stroke="#262626" stroke-width="1.5" />
<polygon points="306.25,498.75 313.87,495.91 314.38,498.77" fill="#262626" stroke="none" stroke-width="0"/>
<polygon points="436.25,475.50 428.63,478.34 428.12,475.48" fill="#262626" stroke="none" stroke-width="0"/>
<g transform="translate(370.00,476.25) rotate(-8) skewX(0) scale(0.93,1)"><text x="0" y="7.16" font-size="20" text-anchor="middle" fill="#262626" stroke="#262626" stroke-width="0.45">17.52"</text></g>
<line x1="450.00" y1="475.00" x2="443.75" y2="490.00" stroke="#262626" stroke-width="1.5" />
<line x1="520.00" y1="500.00" x2="513.75" y2="517.50" stroke="#262626" stroke-width="1.5" />
<line x1="450.00" y1="480.00" x2="517.50" y2="504.50" stroke="#262626" stroke-width="1.5" />
<polygon points="450.00,480.00 458.01,481.37 457.03,484.09" fill="#262626" stroke="none" stroke-width="0"/>
<polygon points="517.50,504.50 509.49,503.13 510.47,500.41" fill="#262626" stroke="none" stroke-width="0"/>
<g transform="translate(487.40,480.60) rotate(19) skewX(-6) scale(0.9,1)"><text x="0" y="7.16" font-size="20" text-anchor="middle" fill="#262626" stroke="#262626" stroke-width="0.45">13.3"</text></g>
<line x1="361.00" y1="546.25" x2="375.00" y2="546.25" stroke="#262626" stroke-width="1.5" />
<line x1="361.00" y1="561.25" x2="375.00" y2="561.25" stroke="#262626" stroke-width="1.5" />
<line x1="365.75" y1="530.00" x2="365.75" y2="546.25" stroke="#262626" stroke-width="1.5" />
<polygon points="365.75,546.25 364.30,538.25 367.20,538.25" fill="#262626" stroke="none" stroke-width="0"/>
<line x1="365.75" y1="561.25" x2="365.75" y2="576.00" stroke="#262626" stroke-width="1.5" />
<polygon points="365.75,561.25 367.20,569.25 364.30,569.25" fill="#262626" stroke="none" stroke-width="0"/>
<polyline points="365.00,555.50 343.75,566.25 295.00,566.25" fill="none" stroke="#262626" stroke-width="1.5" stroke-linejoin="round" />
<g transform="translate(319.40,556.25) rotate(0) skewX(0) scale(0.93,1)"><text x="0" y="7.02" font-size="19.6" text-anchor="middle" fill="#262626" stroke="#262626" stroke-width="0.45">1.58"</text></g>
<g transform="translate(417.50,515.50) rotate(-15) skewX(0) scale(0.93,1)"><text x="0" y="5.55" font-size="15.5" text-anchor="middle" fill="#262626" stroke="#262626" stroke-width="0.45">Adjustable&#160;&#160;shelf</text></g>
<polyline points="522.25,976.75 757.50,933.00 827.50,960.00 593.50,1004.25 522.25,976.75" fill="none" stroke="#262626" stroke-width="1.75" stroke-linejoin="round" />
<polyline points="522.25,976.75 522.25,980.50 593.50,1008.00 828.75,964.25 827.50,960.00" fill="none" stroke="#262626" stroke-width="1.75" stroke-linejoin="round" />
<line x1="593.50" y1="1004.25" x2="593.50" y2="1008.00" stroke="#262626" stroke-width="1.75" />
<line x1="518.50" y1="953.00" x2="521.00" y2="973.00" stroke="#262626" stroke-width="1.5" />
<line x1="753.75" y1="909.25" x2="757.50" y2="930.50" stroke="#262626" stroke-width="1.5" />
<line x1="521.00" y1="956.00" x2="751.25" y2="915.00" stroke="#262626" stroke-width="1.5" />
<polygon points="521.00,956.00 528.62,953.17 529.13,956.03" fill="#262626" stroke="none" stroke-width="0"/>
<polygon points="751.25,915.00 743.63,917.83 743.12,914.97" fill="#262626" stroke="none" stroke-width="0"/>
<g transform="translate(634.75,926.00) rotate(-8) skewX(0) scale(0.93,1)"><text x="0" y="7.16" font-size="20" text-anchor="middle" fill="#262626" stroke="#262626" stroke-width="0.45">30.87"</text></g>
<line x1="765.50" y1="912.50" x2="757.00" y2="930.50" stroke="#262626" stroke-width="1.5" />
<line x1="836.25" y1="938.00" x2="830.00" y2="956.75" stroke="#262626" stroke-width="1.5" />
<line x1="766.25" y1="916.75" x2="833.75" y2="940.50" stroke="#262626" stroke-width="1.5" />
<polygon points="766.25,916.75 774.28,918.04 773.32,920.77" fill="#262626" stroke="none" stroke-width="0"/>
<polygon points="833.75,940.50 825.72,939.21 826.68,936.48" fill="#262626" stroke="none" stroke-width="0"/>
<g transform="translate(803.00,918.00) rotate(19) skewX(-6) scale(0.9,1)"><text x="0" y="7.16" font-size="20" text-anchor="middle" fill="#262626" stroke="#262626" stroke-width="0.45">13.3"</text></g>
<line x1="831.25" y1="959.25" x2="848.75" y2="959.25" stroke="#262626" stroke-width="1.5" />
<line x1="831.25" y1="965.50" x2="848.75" y2="965.50" stroke="#262626" stroke-width="1.5" />
<line x1="844.50" y1="943.00" x2="844.50" y2="959.25" stroke="#262626" stroke-width="1.5" />
<polygon points="844.50,959.25 843.05,951.25 845.95,951.25" fill="#262626" stroke="none" stroke-width="0"/>
<line x1="844.50" y1="965.50" x2="844.50" y2="981.75" stroke="#262626" stroke-width="1.5" />
<polygon points="844.50,965.50 845.95,973.50 843.05,973.50" fill="#262626" stroke="none" stroke-width="0"/>
<polyline points="847.50,961.00 863.75,956.00 901.25,956.00" fill="none" stroke="#262626" stroke-width="1.5" stroke-linejoin="round" />
<g transform="translate(883.00,946.75) rotate(0) skewX(0) scale(0.96,1)"><text x="0" y="6.98" font-size="19.5" text-anchor="middle" fill="#262626" stroke="#262626" stroke-width="0.45">0.6"</text></g>
<g transform="translate(669.75,967.50) rotate(-12) skewX(0) scale(0.93,1)"><text x="0" y="5.55" font-size="15.5" text-anchor="middle" fill="#262626" stroke="#262626" stroke-width="0.45">Adjustable&#160;&#160;shelf</text></g>
<polyline points="252.00,652.50 784.30,555.20 866.20,586.30 333.75,682.50 252.00,652.50" fill="none" stroke="#262626" stroke-width="1.75" stroke-linejoin="round" />
<polyline points="252.00,652.50 253.20,658.00 335.00,687.50" fill="none" stroke="#262626" stroke-width="1.75" stroke-linejoin="round" />
<line x1="254.50" y1="660.50" x2="335.00" y2="690.50" stroke="#262626" stroke-width="1.75" />
<line x1="333.75" y1="682.50" x2="333.75" y2="690.50" stroke="#262626" stroke-width="1.75" />
<line x1="335.00" y1="687.50" x2="866.80" y2="591.40" stroke="#262626" stroke-width="1.75" />
<line x1="335.00" y1="690.50" x2="863.60" y2="594.00" stroke="#262626" stroke-width="1.75" />
<polyline points="866.20,586.30 867.40,588.20 866.80,591.40 863.60,594.00" fill="none" stroke="#262626" stroke-width="1.75" stroke-linejoin="round" />
<line x1="255.50" y1="660.50" x2="255.50" y2="858.50" stroke="#262626" stroke-width="1.75" />
<line x1="332.00" y1="688.00" x2="332.00" y2="885.50" stroke="#262626" stroke-width="1.75" />
<line x1="335.50" y1="690.50" x2="335.50" y2="885.50" stroke="#262626" stroke-width="1.75" />
<line x1="351.25" y1="687.50" x2="351.25" y2="883.00" stroke="#262626" stroke-width="1.75" />
<line x1="399.40" y1="679.00" x2="399.40" y2="729.60" stroke="#262626" stroke-width="1.75" />
<line x1="399.40" y1="780.00" x2="399.40" y2="833.75" stroke="#262626" stroke-width="1.75" />
<polyline points="351.25,738.00 399.40,729.60 416.60,735.40" fill="none" stroke="#262626" stroke-width="1.75" stroke-linejoin="round" />
<line x1="351.25" y1="775.20" x2="416.60" y2="763.40" stroke="#262626" stroke-width="1.75" />
<line x1="351.25" y1="776.80" x2="416.60" y2="765.00" stroke="#262626" stroke-width="1.75" />
<line x1="351.25" y1="790.00" x2="416.60" y2="779.80" stroke="#262626" stroke-width="1.75" />
<polyline points="351.25,842.30 399.40,833.75 416.60,839.20" fill="none" stroke="#262626" stroke-width="1.75" stroke-linejoin="round" />
<circle cx="409.8" cy="716.4" r="1.3" fill="#262626"/>
<rect x="410.6" y="773" width="5.8" height="39.5" rx="1.5" fill="#fff" stroke="#262626" stroke-width="1.5"/>
<line x1="413.30" y1="778.00" x2="413.30" y2="807.00" stroke="#262626" stroke-width="1.2" />
<line x1="253.75" y1="858.50" x2="333.75" y2="885.50" stroke="#262626" stroke-width="1.75" />
<line x1="255.00" y1="864.25" x2="335.00" y2="891.75" stroke="#262626" stroke-width="1.75" />
<line x1="253.75" y1="858.50" x2="255.00" y2="864.25" stroke="#262626" stroke-width="1.75" />
<line x1="335.00" y1="885.50" x2="416.60" y2="873.60" stroke="#262626" stroke-width="1.75" />
<line x1="335.00" y1="891.75" x2="416.60" y2="879.00" stroke="#262626" stroke-width="1.75" />
<line x1="487.70" y1="860.30" x2="717.25" y2="819.25" stroke="#262626" stroke-width="1.75" />
<line x1="487.70" y1="865.50" x2="742.20" y2="819.30" stroke="#262626" stroke-width="1.75" />
<line x1="737.50" y1="819.25" x2="860.00" y2="818.00" stroke="#262626" stroke-width="1.75" />
<path d="M255.5,864.25 L255.5,893 L271.9,898.4 Q272.3,891.6 278.9,891.4 L312.5,903.9 Q317.5,906 319.5,913 Q321,917.5 332.8,921.1" fill="none" stroke="#262626" stroke-width="1.75" stroke-linejoin="round" />
<line x1="332.80" y1="891.50" x2="332.80" y2="921.10" stroke="#262626" stroke-width="1.75" />
<line x1="335.60" y1="892.00" x2="335.60" y2="921.90" stroke="#262626" stroke-width="1.75" />
<path d="M335.6,921.9 L378.9,914.1 Q381.5,913.2 383,908.5 Q384.8,903.8 387.5,903 L810,826.75 Q813,827.5 815,831 Q816.5,834.5 820,834 L861.25,826.75 L861.25,818" fill="none" stroke="#262626" stroke-width="1.75" stroke-linejoin="round" />
<g transform="matrix(0.52584,-0.25281,0.00000,0.97654,430.30,711.50)"><g clip-path="url(#latclip3)"><line x1="44.50" y1="0.00" x2="44.50" y2="162.00" stroke="#b4b4b4" stroke-width="2.0" vector-effect="non-scaling-stroke"/><line x1="0.00" y1="54.00" x2="89.00" y2="54.00" stroke="#b4b4b4" stroke-width="2.0" vector-effect="non-scaling-stroke"/><line x1="0.00" y1="108.00" x2="89.00" y2="108.00" stroke="#b4b4b4" stroke-width="2.0" vector-effect="non-scaling-stroke"/><circle cx="16.91" cy="27.00" r="3.0" fill="#b4b4b4"/><circle cx="16.91" cy="81.00" r="3.0" fill="#b4b4b4"/><circle cx="16.91" cy="135.00" r="3.0" fill="#b4b4b4"/><circle cx="72.09" cy="27.00" r="3.0" fill="#b4b4b4"/><circle cx="72.09" cy="81.00" r="3.0" fill="#b4b4b4"/><circle cx="72.09" cy="135.00" r="3.0" fill="#b4b4b4"/><path d="M16.91,27.00 A19.86,19.86 0 0 1 44.50,27.00 A19.86,19.86 0 0 1 16.91,27.00 M16.91,27.00 A19.86,19.86 0 0 1 30.71,3.11 A19.86,19.86 0 0 1 16.91,27.00 M16.91,27.00 A19.86,19.86 0 0 1 3.12,3.11 A19.86,19.86 0 0 1 16.91,27.00 M16.91,27.00 A19.86,19.86 0 0 1 -10.68,27.00 A19.86,19.86 0 0 1 16.91,27.00 M16.91,27.00 A19.86,19.86 0 0 1 3.11,50.89 A19.86,19.86 0 0 1 16.91,27.00 M16.91,27.00 A19.86,19.86 0 0 1 30.71,50.89 A19.86,19.86 0 0 1 16.91,27.00 M30.71,3.11 L44.50,27.00 M3.11,3.11 L-10.68,27.00 M30.71,50.89 L44.50,27.00 M3.11,50.89 L-10.68,27.00 M16.91,81.00 A19.86,19.86 0 0 1 44.50,81.00 A19.86,19.86 0 0 1 16.91,81.00 M16.91,81.00 A19.86,19.86 0 0 1 30.71,57.11 A19.86,19.86 0 0 1 16.91,81.00 M16.91,81.00 A19.86,19.86 0 0 1 3.12,57.11 A19.86,19.86 0 0 1 16.91,81.00 M16.91,81.00 A19.86,19.86 0 0 1 -10.68,81.00 A19.86,19.86 0 0 1 16.91,81.00 M16.91,81.00 A19.86,19.86 0 0 1 3.11,104.89 A19.86,19.86 0 0 1 16.91,81.00 M16.91,81.00 A19.86,19.86 0 0 1 30.71,104.89 A19.86,19.86 0 0 1 16.91,81.00 M30.71,57.11 L44.50,81.00 M3.11,57.11 L-10.68,81.00 M30.71,104.89 L44.50,81.00 M3.11,104.89 L-10.68,81.00 M16.91,135.00 A19.86,19.86 0 0 1 44.50,135.00 A19.86,19.86 0 0 1 16.91,135.00 M16.91,135.00 A19.86,19.86 0 0 1 30.71,111.11 A19.86,19.86 0 0 1 16.91,135.00 M16.91,135.00 A19.86,19.86 0 0 1 3.12,111.11 A19.86,19.86 0 0 1 16.91,135.00 M16.91,135.00 A19.86,19.86 0 0 1 -10.68,135.00 A19.86,19.86 0 0 1 16.91,135.00 M16.91,135.00 A19.86,19.86 0 0 1 3.11,158.89 A19.86,19.86 0 0 1 16.91,135.00 M16.91,135.00 A19.86,19.86 0 0 1 30.71,158.89 A19.86,19.86 0 0 1 16.91,135.00 M30.71,111.11 L44.50,135.00 M3.11,111.11 L-10.68,135.00 M30.71,158.89 L44.50,135.00 M3.11,158.89 L-10.68,135.00 M72.09,27.00 A19.86,19.86 0 0 1 99.68,27.00 A19.86,19.86 0 0 1 72.09,27.00 M72.09,27.00 A19.86,19.86 0 0 1 85.89,3.11 A19.86,19.86 0 0 1 72.09,27.00 M72.09,27.00 A19.86,19.86 0 0 1 58.30,3.11 A19.86,19.86 0 0 1 72.09,27.00 M72.09,27.00 A19.86,19.86 0 0 1 44.50,27.00 A19.86,19.86 0 0 1 72.09,27.00 M72.09,27.00 A19.86,19.86 0 0 1 58.29,50.89 A19.86,19.86 0 0 1 72.09,27.00 M72.09,27.00 A19.86,19.86 0 0 1 85.89,50.89 A19.86,19.86 0 0 1 72.09,27.00 M85.89,3.11 L99.68,27.00 M58.30,3.11 L44.50,27.00 M85.89,50.89 L99.68,27.00 M58.30,50.89 L44.50,27.00 M72.09,81.00 A19.86,19.86 0 0 1 99.68,81.00 A19.86,19.86 0 0 1 72.09,81.00 M72.09,81.00 A19.86,19.86 0 0 1 85.89,57.11 A19.86,19.86 0 0 1 72.09,81.00 M72.09,81.00 A19.86,19.86 0 0 1 58.30,57.11 A19.86,19.86 0 0 1 72.09,81.00 M72.09,81.00 A19.86,19.86 0 0 1 44.50,81.00 A19.86,19.86 0 0 1 72.09,81.00 M72.09,81.00 A19.86,19.86 0 0 1 58.29,104.89 A19.86,19.86 0 0 1 72.09,81.00 M72.09,81.00 A19.86,19.86 0 0 1 85.89,104.89 A19.86,19.86 0 0 1 72.09,81.00 M85.89,57.11 L99.68,81.00 M58.30,57.11 L44.50,81.00 M85.89,104.89 L99.68,81.00 M58.30,104.89 L44.50,81.00 M72.09,135.00 A19.86,19.86 0 0 1 99.68,135.00 A19.86,19.86 0 0 1 72.09,135.00 M72.09,135.00 A19.86,19.86 0 0 1 85.89,111.11 A19.86,19.86 0 0 1 72.09,135.00 M72.09,135.00 A19.86,19.86 0 0 1 58.30,111.11 A19.86,19.86 0 0 1 72.09,135.00 M72.09,135.00 A19.86,19.86 0 0 1 44.50,135.00 A19.86,19.86 0 0 1 72.09,135.00 M72.09,135.00 A19.86,19.86 0 0 1 58.29,158.89 A19.86,19.86 0 0 1 72.09,135.00 M72.09,135.00 A19.86,19.86 0 0 1 85.89,158.89 A19.86,19.86 0 0 1 72.09,135.00 M85.89,111.11 L99.68,135.00 M58.30,111.11 L44.50,135.00 M85.89,158.89 L99.68,135.00 M58.30,158.89 L44.50,135.00" fill="none" stroke="#b4b4b4" stroke-width="2.0" vector-effect="non-scaling-stroke"/><rect x="0" y="0" width="89.0" height="162.0" fill="none" stroke="#b4b4b4" stroke-width="4.4" vector-effect="non-scaling-stroke"/></g></g>
<line x1="416.60" y1="698.00" x2="488.40" y2="666.10" stroke="#262626" stroke-width="2.0" />
<line x1="422.50" y1="699.00" x2="487.00" y2="670.00" stroke="#262626" stroke-width="1.2" />
<line x1="416.60" y1="698.00" x2="416.60" y2="892.30" stroke="#262626" stroke-width="1.75" />
<line x1="422.00" y1="699.00" x2="422.00" y2="893.10" stroke="#262626" stroke-width="1.75" />
<line x1="422.00" y1="893.10" x2="487.70" y2="860.30" stroke="#262626" stroke-width="1.75" />
<line x1="488.40" y1="666.10" x2="488.40" y2="860.30" stroke="#262626" stroke-width="1.75" />
<line x1="422.50" y1="698.80" x2="430.30" y2="711.50" stroke="#262626" stroke-width="1.75" />
<line x1="488.40" y1="667.10" x2="480.10" y2="686.60" stroke="#262626" stroke-width="1.75" />
<line x1="430.30" y1="869.70" x2="422.00" y2="893.10" stroke="#262626" stroke-width="1.75" />
<line x1="477.50" y1="847.80" x2="487.70" y2="860.30" stroke="#262626" stroke-width="1.75" />
<line x1="430.30" y1="711.50" x2="430.30" y2="869.70" stroke="#262626" stroke-width="1.75" />
<line x1="477.10" y1="689.00" x2="477.50" y2="847.80" stroke="#262626" stroke-width="1.75" />
<line x1="481.40" y1="688.00" x2="481.40" y2="848.00" stroke="#262626" stroke-width="2.2" />
<line x1="430.30" y1="711.50" x2="480.10" y2="686.60" stroke="#262626" stroke-width="2.2" />
<line x1="430.30" y1="869.70" x2="477.50" y2="847.80" stroke="#262626" stroke-width="3.0" />
<rect x="426.5" y="693.5" width="8" height="5" rx="2.2" transform="rotate(-24 430.5 696)" fill="#fff" stroke="#262626" stroke-width="1.6"/>
<polyline points="431.00,742.50 469.00,753.75 469.00,765.00 431.00,773.75" fill="none" stroke="#262626" stroke-width="1.2" stroke-linejoin="round" />
<line x1="431.00" y1="760.00" x2="469.00" y2="753.75" stroke="#262626" stroke-width="1.2" />
<circle cx="426" cy="777.5" r="1.6" fill="#262626"/>
<circle cx="426" cy="811.1" r="1.6" fill="#262626"/>
<circle cx="457.2" cy="778.3" r="1.4" fill="#262626"/>
<circle cx="456.6" cy="733.5" r="1.4" fill="#262626"/>
<line x1="489.20" y1="667.00" x2="489.20" y2="860.00" stroke="#262626" stroke-width="1.75" />
<line x1="640.50" y1="635.00" x2="640.50" y2="686.25" stroke="#262626" stroke-width="1.75" />
<line x1="640.50" y1="732.50" x2="640.50" y2="790.50" stroke="#262626" stroke-width="1.75" />
<polyline points="489.20,712.00 640.50,686.25 709.20,711.50" fill="none" stroke="#262626" stroke-width="1.75" stroke-linejoin="round" />
<line x1="489.20" y1="750.50" x2="709.20" y2="711.80" stroke="#262626" stroke-width="1.75" />
<line x1="489.20" y1="756.00" x2="710.40" y2="717.60" stroke="#262626" stroke-width="1.75" />
<line x1="709.50" y1="711.50" x2="710.40" y2="717.60" stroke="#262626" stroke-width="1.75" />
<polyline points="489.20,816.60 640.50,790.50 717.25,818.00" fill="none" stroke="#262626" stroke-width="1.75" stroke-linejoin="round" />
<ellipse cx="522" cy="788" rx="7.5" ry="9" transform="rotate(20 522 788)" fill="none" stroke="#262626" stroke-width="1.6"/>
<circle cx="653" cy="673.25" r="1.3" fill="#262626"/>
<circle cx="700.5" cy="690.5" r="1.3" fill="#262626"/>
<circle cx="700.5" cy="735.75" r="1.3" fill="#262626"/>
<ellipse cx="649.75" cy="784.5" rx="1.8" ry="2.3" fill="none" stroke="#262626" stroke-width="1.1"/>
<ellipse cx="703.5" cy="803.75" rx="1.8" ry="2.3" fill="none" stroke="#262626" stroke-width="1.1"/>
<ellipse cx="703.5" cy="625.5" rx="1.8" ry="2.3" fill="none" stroke="#262626" stroke-width="1.1"/>
<line x1="617.25" y1="640.00" x2="617.25" y2="727.50" stroke="#262626" stroke-width="1.5" />
<polygon points="617.25,640.00 618.70,648.00 615.80,648.00" fill="#262626" stroke="none" stroke-width="0"/>
<polygon points="617.25,727.50 615.80,719.50 618.70,719.50" fill="#262626" stroke="none" stroke-width="0"/>
<line x1="619.75" y1="736.25" x2="619.75" y2="835.50" stroke="#262626" stroke-width="1.5" />
<polygon points="619.75,736.25 621.20,744.25 618.30,744.25" fill="#262626" stroke="none" stroke-width="0"/>
<polygon points="619.75,835.50 618.30,827.50 621.20,827.50" fill="#262626" stroke="none" stroke-width="0"/>
<g transform="translate(628.50,683.75) rotate(90) skewX(0) scale(0.93,1)"><text x="0" y="7.16" font-size="20" text-anchor="middle" fill="#262626" stroke="#262626" stroke-width="0.45">10.7"</text></g>
<g transform="translate(629.75,785.00) rotate(90) skewX(0) scale(0.93,1)"><text x="0" y="7.16" font-size="20" text-anchor="middle" fill="#262626" stroke="#262626" stroke-width="0.45">10.7"</text></g>
<g transform="matrix(1.19607,0.00000,0.00000,0.98889,736.25,640.30)"><g clip-path="url(#latclip4)"><line x1="44.50" y1="0.00" x2="44.50" y2="162.00" stroke="#a9a9a9" stroke-width="2.7" vector-effect="non-scaling-stroke"/><line x1="0.00" y1="54.00" x2="89.00" y2="54.00" stroke="#a9a9a9" stroke-width="2.7" vector-effect="non-scaling-stroke"/><line x1="0.00" y1="108.00" x2="89.00" y2="108.00" stroke="#a9a9a9" stroke-width="2.7" vector-effect="non-scaling-stroke"/><circle cx="16.91" cy="27.00" r="3.0" fill="#a9a9a9"/><circle cx="16.91" cy="81.00" r="3.0" fill="#a9a9a9"/><circle cx="16.91" cy="135.00" r="3.0" fill="#a9a9a9"/><circle cx="72.09" cy="27.00" r="3.0" fill="#a9a9a9"/><circle cx="72.09" cy="81.00" r="3.0" fill="#a9a9a9"/><circle cx="72.09" cy="135.00" r="3.0" fill="#a9a9a9"/><path d="M16.91,27.00 A19.86,19.86 0 0 1 44.50,27.00 A19.86,19.86 0 0 1 16.91,27.00 M16.91,27.00 A19.86,19.86 0 0 1 30.71,3.11 A19.86,19.86 0 0 1 16.91,27.00 M16.91,27.00 A19.86,19.86 0 0 1 3.12,3.11 A19.86,19.86 0 0 1 16.91,27.00 M16.91,27.00 A19.86,19.86 0 0 1 -10.68,27.00 A19.86,19.86 0 0 1 16.91,27.00 M16.91,27.00 A19.86,19.86 0 0 1 3.11,50.89 A19.86,19.86 0 0 1 16.91,27.00 M16.91,27.00 A19.86,19.86 0 0 1 30.71,50.89 A19.86,19.86 0 0 1 16.91,27.00 M30.71,3.11 L44.50,27.00 M3.11,3.11 L-10.68,27.00 M30.71,50.89 L44.50,27.00 M3.11,50.89 L-10.68,27.00 M16.91,81.00 A19.86,19.86 0 0 1 44.50,81.00 A19.86,19.86 0 0 1 16.91,81.00 M16.91,81.00 A19.86,19.86 0 0 1 30.71,57.11 A19.86,19.86 0 0 1 16.91,81.00 M16.91,81.00 A19.86,19.86 0 0 1 3.12,57.11 A19.86,19.86 0 0 1 16.91,81.00 M16.91,81.00 A19.86,19.86 0 0 1 -10.68,81.00 A19.86,19.86 0 0 1 16.91,81.00 M16.91,81.00 A19.86,19.86 0 0 1 3.11,104.89 A19.86,19.86 0 0 1 16.91,81.00 M16.91,81.00 A19.86,19.86 0 0 1 30.71,104.89 A19.86,19.86 0 0 1 16.91,81.00 M30.71,57.11 L44.50,81.00 M3.11,57.11 L-10.68,81.00 M30.71,104.89 L44.50,81.00 M3.11,104.89 L-10.68,81.00 M16.91,135.00 A19.86,19.86 0 0 1 44.50,135.00 A19.86,19.86 0 0 1 16.91,135.00 M16.91,135.00 A19.86,19.86 0 0 1 30.71,111.11 A19.86,19.86 0 0 1 16.91,135.00 M16.91,135.00 A19.86,19.86 0 0 1 3.12,111.11 A19.86,19.86 0 0 1 16.91,135.00 M16.91,135.00 A19.86,19.86 0 0 1 -10.68,135.00 A19.86,19.86 0 0 1 16.91,135.00 M16.91,135.00 A19.86,19.86 0 0 1 3.11,158.89 A19.86,19.86 0 0 1 16.91,135.00 M16.91,135.00 A19.86,19.86 0 0 1 30.71,158.89 A19.86,19.86 0 0 1 16.91,135.00 M30.71,111.11 L44.50,135.00 M3.11,111.11 L-10.68,135.00 M30.71,158.89 L44.50,135.00 M3.11,158.89 L-10.68,135.00 M72.09,27.00 A19.86,19.86 0 0 1 99.68,27.00 A19.86,19.86 0 0 1 72.09,27.00 M72.09,27.00 A19.86,19.86 0 0 1 85.89,3.11 A19.86,19.86 0 0 1 72.09,27.00 M72.09,27.00 A19.86,19.86 0 0 1 58.30,3.11 A19.86,19.86 0 0 1 72.09,27.00 M72.09,27.00 A19.86,19.86 0 0 1 44.50,27.00 A19.86,19.86 0 0 1 72.09,27.00 M72.09,27.00 A19.86,19.86 0 0 1 58.29,50.89 A19.86,19.86 0 0 1 72.09,27.00 M72.09,27.00 A19.86,19.86 0 0 1 85.89,50.89 A19.86,19.86 0 0 1 72.09,27.00 M85.89,3.11 L99.68,27.00 M58.30,3.11 L44.50,27.00 M85.89,50.89 L99.68,27.00 M58.30,50.89 L44.50,27.00 M72.09,81.00 A19.86,19.86 0 0 1 99.68,81.00 A19.86,19.86 0 0 1 72.09,81.00 M72.09,81.00 A19.86,19.86 0 0 1 85.89,57.11 A19.86,19.86 0 0 1 72.09,81.00 M72.09,81.00 A19.86,19.86 0 0 1 58.30,57.11 A19.86,19.86 0 0 1 72.09,81.00 M72.09,81.00 A19.86,19.86 0 0 1 44.50,81.00 A19.86,19.86 0 0 1 72.09,81.00 M72.09,81.00 A19.86,19.86 0 0 1 58.29,104.89 A19.86,19.86 0 0 1 72.09,81.00 M72.09,81.00 A19.86,19.86 0 0 1 85.89,104.89 A19.86,19.86 0 0 1 72.09,81.00 M85.89,57.11 L99.68,81.00 M58.30,57.11 L44.50,81.00 M85.89,104.89 L99.68,81.00 M58.30,104.89 L44.50,81.00 M72.09,135.00 A19.86,19.86 0 0 1 99.68,135.00 A19.86,19.86 0 0 1 72.09,135.00 M72.09,135.00 A19.86,19.86 0 0 1 85.89,111.11 A19.86,19.86 0 0 1 72.09,135.00 M72.09,135.00 A19.86,19.86 0 0 1 58.30,111.11 A19.86,19.86 0 0 1 72.09,135.00 M72.09,135.00 A19.86,19.86 0 0 1 44.50,135.00 A19.86,19.86 0 0 1 72.09,135.00 M72.09,135.00 A19.86,19.86 0 0 1 58.29,158.89 A19.86,19.86 0 0 1 72.09,135.00 M72.09,135.00 A19.86,19.86 0 0 1 85.89,158.89 A19.86,19.86 0 0 1 72.09,135.00 M85.89,111.11 L99.68,135.00 M58.30,111.11 L44.50,135.00 M85.89,158.89 L99.68,135.00 M58.30,158.89 L44.50,135.00" fill="none" stroke="#a9a9a9" stroke-width="2.7" vector-effect="non-scaling-stroke"/><rect x="0" y="0" width="89.0" height="162.0" fill="none" stroke="#a9a9a9" stroke-width="5.2" vector-effect="non-scaling-stroke"/></g></g>
<line x1="717.80" y1="622.50" x2="717.80" y2="818.00" stroke="#262626" stroke-width="2.4" />
<polygon points="712.2,640.7 718.5,640.7 718.5,665.2 716,663.7 712.2,662.7" fill="#262626"/>
<rect x="713.4" y="646.7" width="2" height="3.6" fill="#fff"/>
<rect x="713.4" y="654.2" width="2" height="4" fill="#fff"/>
<polygon points="712.2,773.5 718.5,773.5 718.5,798.0 716,796.5 712.2,795.5" fill="#262626"/>
<rect x="713.4" y="779.5" width="2" height="3.6" fill="#fff"/>
<rect x="713.4" y="787.0" width="2" height="4" fill="#fff"/>
<line x1="718.75" y1="622.50" x2="860.40" y2="621.20" stroke="#262626" stroke-width="2.2" />
<line x1="860.40" y1="594.00" x2="860.40" y2="818.00" stroke="#262626" stroke-width="1.75" />
<line x1="718.75" y1="818.00" x2="860.40" y2="818.00" stroke="#262626" stroke-width="1.75" />
<line x1="736.25" y1="640.30" x2="842.70" y2="640.30" stroke="#262626" stroke-width="2.0" />
<line x1="736.25" y1="640.30" x2="736.25" y2="800.50" stroke="#262626" stroke-width="1.75" />
<line x1="842.70" y1="640.30" x2="842.70" y2="800.50" stroke="#262626" stroke-width="1.75" />
<line x1="736.25" y1="800.50" x2="842.70" y2="800.50" stroke="#262626" stroke-width="2.2" />
<line x1="719.00" y1="623.00" x2="736.25" y2="640.30" stroke="#262626" stroke-width="1.75" />
<line x1="859.20" y1="623.20" x2="842.70" y2="640.30" stroke="#262626" stroke-width="1.75" />
<line x1="737.50" y1="800.50" x2="718.75" y2="818.00" stroke="#262626" stroke-width="1.75" />
<line x1="842.50" y1="800.50" x2="860.00" y2="817.00" stroke="#262626" stroke-width="1.75" />
<rect x="834" y="623.2" width="17" height="4.6" rx="2.3" fill="#fff" stroke="#262626" stroke-width="1.8"/>
<circle cx="851.25" cy="703" r="1.6" fill="#262626"/>
<circle cx="851.25" cy="737" r="1.6" fill="#262626"/>
<line x1="842.40" y1="598.00" x2="842.40" y2="621.00" stroke="#262626" stroke-width="1.75" />
<line x1="846.50" y1="597.50" x2="846.50" y2="621.00" stroke="#262626" stroke-width="1.75" />
<line x1="780.50" y1="610.00" x2="780.50" y2="622.00" stroke="#262626" stroke-width="1.75" />
<line x1="780.50" y1="641.00" x2="780.50" y2="661.25" stroke="#262626" stroke-width="1.75" />
<line x1="780.50" y1="713.75" x2="780.50" y2="765.00" stroke="#262626" stroke-width="1.75" />
<polyline points="736.25,667.50 780.50,661.25 842.50,683.75" fill="none" stroke="#262626" stroke-width="1.75" stroke-linejoin="round" />
<line x1="736.25" y1="705.00" x2="842.50" y2="687.50" stroke="#262626" stroke-width="1.75" />
<line x1="736.25" y1="706.80" x2="842.50" y2="689.30" stroke="#262626" stroke-width="1.75" />
<line x1="736.25" y1="720.00" x2="842.50" y2="703.75" stroke="#262626" stroke-width="1.75" />
<polyline points="736.25,772.50 780.50,765.00 842.50,787.50" fill="none" stroke="#262626" stroke-width="1.75" stroke-linejoin="round" />
<circle cx="790.5" cy="647" r="1.3" fill="#262626"/>
<circle cx="837.5" cy="664.5" r="1.3" fill="#262626"/>
<circle cx="837.5" cy="710" r="1.3" fill="#262626"/>
<ellipse cx="789.8" cy="759.2" rx="1.7" ry="2.6" fill="none" stroke="#262626" stroke-width="1.2"/>
</svg></body></html>
